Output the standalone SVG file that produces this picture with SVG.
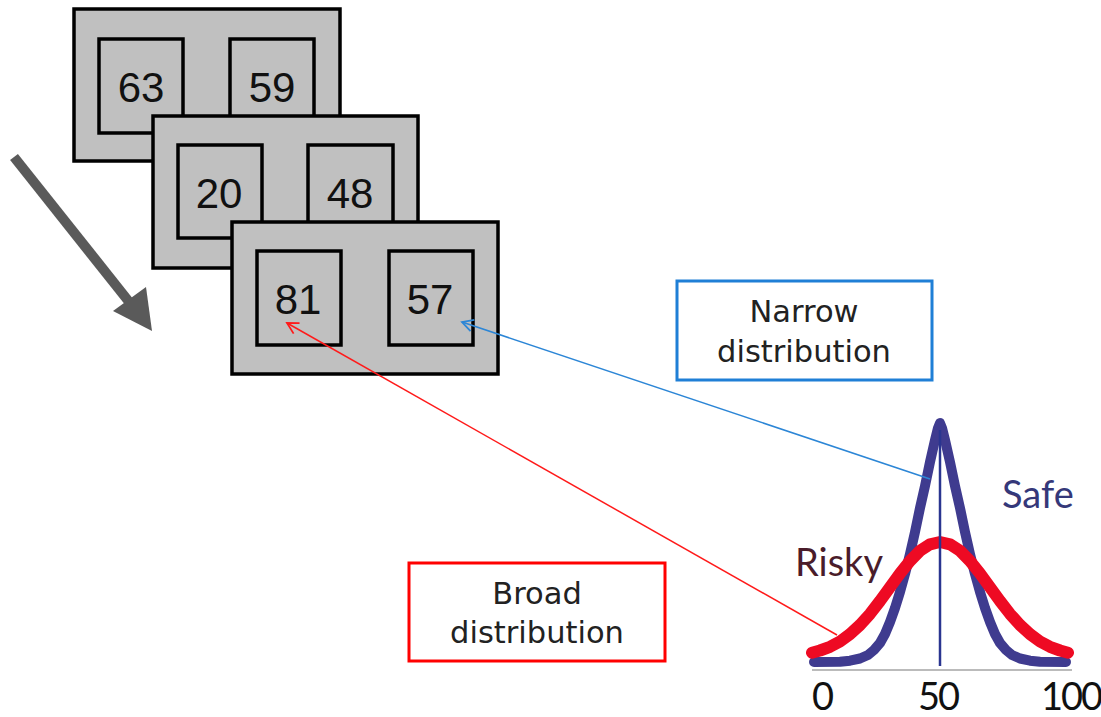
<svg xmlns="http://www.w3.org/2000/svg" width="1101" height="717" viewBox="0 0 1101 717">
<style>
.frame{fill:#c0c0c0;stroke:#000;stroke-width:3.5}
.num{font-family:"Liberation Sans",Arial,sans-serif;font-size:42px;fill:#111;text-anchor:middle}
.lbl{font-family:"DejaVu Sans",sans-serif;font-size:30.5px;fill:#222;text-anchor:middle}
.gill{font-family:Lato,"Liberation Sans",sans-serif;font-size:38px}
</style>
<defs>
<marker id="arrRed" markerWidth="14" markerHeight="14" refX="12" refY="7" orient="auto" markerUnits="userSpaceOnUse">
<path d="M1,1 L12,7 L1,13" fill="none" stroke="#ff1a1a" stroke-width="1.8"/>
</marker>
<marker id="arrBlue" markerWidth="14" markerHeight="14" refX="12" refY="7" orient="auto" markerUnits="userSpaceOnUse">
<path d="M1,1 L12,7 L1,13" fill="none" stroke="#2c86d6" stroke-width="1.8"/>
</marker>
</defs>
<rect width="1101" height="717" fill="#fff"/>
<g id="trial1">
<rect class="frame" x="74" y="9" width="266" height="152"/>
<rect class="frame" x="99" y="39" width="84" height="94"/>
<rect class="frame" x="230" y="39" width="84" height="94"/>
<text class="num" x="141" y="102">63</text>
<text class="num" x="272" y="102">59</text>
</g>
<g id="trial2">
<rect class="frame" x="153" y="116" width="265" height="152"/>
<rect class="frame" x="178" y="145" width="84" height="93"/>
<rect class="frame" x="308" y="145" width="85" height="93"/>
<text class="num" x="219" y="208">20</text>
<text class="num" x="350" y="208">48</text>
</g>
<g id="trial3">
<rect class="frame" x="232" y="222" width="266" height="152"/>
<rect class="frame" x="257" y="251" width="84" height="94"/>
<rect class="frame" x="389" y="251" width="84" height="94"/>
<text class="num" x="298" y="314">81</text>
<text class="num" x="430" y="314">57</text>
</g>
<g id="timeArrow">
<path d="M14,157 L130,303" stroke="#5a5a5a" stroke-width="10" fill="none"/>
<polygon points="152,331 113,311 146,287" fill="#5a5a5a"/>
</g>
<g id="narrowBox">
<rect x="677" y="281" width="255" height="99" fill="#fff" stroke="#1f7fd6" stroke-width="3"/>
<text class="lbl" x="804" y="322">Narrow</text>
<text class="lbl" x="804" y="362">distribution</text>
</g>
<g id="broadBox">
<rect x="409" y="563" width="256" height="98" fill="#fff" stroke="#ff0000" stroke-width="3"/>
<text class="lbl" x="537" y="604">Broad</text>
<text class="lbl" x="537" y="643">distribution</text>
</g>
<g id="distributions">
<line x1="812" y1="670" x2="1072" y2="670" stroke="#bbbbbb" stroke-width="2"/>
<path id="safeCurve" fill="none" stroke="#3f3b8f" stroke-width="10" stroke-linecap="round" stroke-linejoin="round" d="M814,662 L840,661.8 L850,660.7 L860,658.5 L868,655 L874,650 L880,643 L885,634 L890,622 L895,608 L900,592 L905,574 L910,554 L915,532 L920,508 L925,486 L930,462 L935,440 L938,428 L940,423 L942,428 L945,440 L950,462 L955,486 L960,508 L965,532 L970,554 L975,574 L980,592 L985,608 L990,622 L995,634 L1000,643 L1006,650 L1012,655 L1020,658.5 L1030,660.7 L1040,661.8 L1066,662"/>
<path id="riskyCurve" fill="none" stroke="#ee0a23" stroke-width="12" stroke-linecap="round" stroke-linejoin="round" d="M812,652.7 L820,650.5 L830,646.8 L840,641.5 L850,634.2 L860,625 L870,613.9 L880,601 L890,587.3 L900,573.5 L910,561 L920,550.8 L930,544.3 L940,542 L950,544.3 L960,550.8 L970,561 L980,573.5 L990,587.3 L1000,601 L1010,613.9 L1020,625 L1030,634.2 L1040,641.5 L1050,646.8 L1060,650.5 L1068,652.7"/>
<line x1="940" y1="430" x2="940" y2="666" stroke="#2a3590" stroke-width="2.5"/>
<text class="gill" x="1002" y="508" fill="#353879">Safe</text>
<text class="gill" x="795" y="576" fill="#4a1c2a">Risky</text>
<text class="gill" x="822" y="710" fill="#111" text-anchor="middle" letter-spacing="-2">0</text>
<text class="gill" x="938" y="710" fill="#111" text-anchor="middle" letter-spacing="-2">50</text>
<text class="gill" x="1071" y="710" fill="#111" text-anchor="middle" letter-spacing="-2">100</text>
</g>
<g id="connectors">
<line x1="930" y1="479" x2="462" y2="322" stroke="#2c86d6" stroke-width="1.5" marker-end="url(#arrBlue)"/>
<line x1="837" y1="635" x2="287" y2="323" stroke="#ff1a1a" stroke-width="1.5" marker-end="url(#arrRed)"/>
</g>
</svg>
